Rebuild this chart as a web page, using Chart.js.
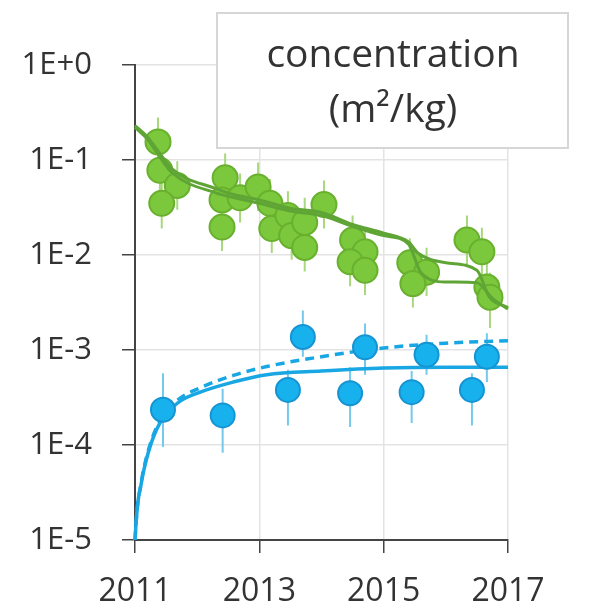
<!DOCTYPE html>
<html>
<head>
<meta charset="utf-8">
<script src="https://cdn.jsdelivr.net/npm/chart.js@4.4.1/dist/chart.umd.min.js"></script>
<style>
  html, body { margin: 0; padding: 0; background: #ffffff; }
  #wrap { width: 596px; height: 612px; }
</style>
</head>
<body>
<div id="wrap"><canvas id="c" width="596" height="612"></canvas></div>
<script>
// ---- data ----
const xTicks = [2011, 2013, 2015, 2017];
const yTickValues = [1e-5, 1e-4, 1e-3, 1e-2, 1e-1, 1];
const yTickLabels = ['1E-5', '1E-4', '1E-3', '1E-2', '1E-1', '1E+0'];
const titleLines = ['concentration', '(m²/kg)'];

// measured green samples: time, value, error bar low/high
const greenTime = [2011.37, 2011.40, 2011.68, 2011.43, 2012.45, 2012.40, 2012.40, 2012.69, 2012.98,
                   2013.17, 2013.20, 2013.46, 2013.52, 2013.73, 2013.73, 2014.04, 2014.50, 2014.70,
                   2014.46, 2014.70, 2015.42, 2015.69, 2015.47, 2016.34, 2016.58, 2016.66, 2016.71];
const greenValue = [0.155, 0.078, 0.054, 0.035, 0.065, 0.038, 0.0197, 0.040, 0.052,
                    0.035, 0.019, 0.026, 0.016, 0.012, 0.022, 0.034, 0.0144, 0.0108,
                    0.0085, 0.0069, 0.0083, 0.0066, 0.0050, 0.0144, 0.0108, 0.0046, 0.0036];
const greenLow = [0.085, 0.043, 0.030, 0.019, 0.036, 0.021, 0.011, 0.022, 0.029,
                  0.019, 0.0105, 0.0145, 0.0089, 0.0067, 0.012, 0.019, 0.008, 0.006,
                  0.0047, 0.0038, 0.0046, 0.0037, 0.0028, 0.008, 0.006, 0.0026, 0.0017];
const greenHigh = [0.28, 0.14, 0.097, 0.063, 0.117, 0.068, 0.035, 0.072, 0.094,
                   0.063, 0.034, 0.047, 0.029, 0.0216, 0.040, 0.061, 0.026, 0.0194,
                   0.0153, 0.0124, 0.015, 0.0119, 0.009, 0.026, 0.0194, 0.0083, 0.0065];

// measured blue samples
const blueTime = [2011.45, 2012.41, 2013.46, 2013.70, 2014.46, 2014.70, 2015.45, 2015.69, 2016.42, 2016.66];
const blueValue = [2.35e-4, 2.05e-4, 3.8e-4, 1.37e-3, 3.5e-4, 1.07e-3, 3.6e-4, 8.9e-4, 3.8e-4, 8.5e-4];
const blueLow = [9.5e-5, 8.3e-5, 1.6e-4, 8.5e-4, 1.55e-4, 5.5e-4, 1.7e-4, 5.5e-4, 1.6e-4, 4.6e-4];
const blueHigh = [5.7e-4, 3.9e-4, 6.2e-4, 2.6e-3, 6.6e-4, 1.9e-3, 6.0e-4, 1.45e-3, 5.7e-4, 1.5e-3];

// model curves
const greenModelATime = [2011.0, 2011.2, 2011.35, 2011.6, 2012.3, 2012.6, 2013.0, 2013.5, 2014.0, 2014.5,
                         2015.0, 2015.4, 2015.55, 2016.0, 2016.5, 2016.7, 2017.0];
const greenModelA = [0.23, 0.175, 0.13, 0.080, 0.050, 0.043, 0.038, 0.031, 0.028, 0.021,
                     0.017, 0.0137, 0.0105, 0.0083, 0.0069, 0.0036, 0.0028];
const greenModelBTime = [2011.0, 2011.2, 2011.35, 2011.6, 2012.3, 2012.6, 2013.0, 2013.5, 2014.0, 2014.5,
                         2015.0, 2015.4, 2015.6, 2016.0, 2016.5, 2016.75, 2017.0];
const greenModelB = [0.22, 0.165, 0.12, 0.073, 0.045, 0.040, 0.035, 0.029, 0.026, 0.020,
                     0.016, 0.0130, 0.0065, 0.0052, 0.0051, 0.0035, 0.0027];

const blueModelTime = [2011.0, 2011.02, 2011.05, 2011.09, 2011.13, 2011.24, 2011.40, 2011.68, 2012.05, 2012.58,
                       2013.12, 2014.0, 2015.0, 2016.0, 2017.0];
const blueSolid = [1e-5, 1.6e-5, 2.6e-5, 3.6e-5, 5.0e-5, 9.5e-5, 1.7e-4, 2.75e-4, 3.6e-4, 4.6e-4,
                   5.5e-4, 6.0e-4, 6.45e-4, 6.6e-4, 6.6e-4];
const blueDashed = [1e-5, 1.6e-5, 2.6e-5, 3.7e-5, 5.2e-5, 1.0e-4, 1.8e-4, 2.95e-4, 4.0e-4, 5.4e-4,
                    6.7e-4, 8.5e-4, 1.05e-3, 1.18e-3, 1.25e-3];

// ---- helpers ----
const pts = (xs, ys) => xs.map((x, i) => ({ x: x, y: ys[i] }));
// vertical error segments separated by gaps
const bars = (xs, lo, hi) => {
  const out = [];
  xs.forEach((x, i) => { out.push({ x: x, y: lo[i] }, { x: x, y: hi[i] }, { x: x, y: null }); });
  return out;
};

const GREEN_FILL = '#7cc83c';
const GREEN_EDGE = '#68b02e';
const GREEN_LINE = '#5fa535';
const GREEN_BAR = '#a8d87e';
const BLUE_FILL = '#17b2ee';
const BLUE_EDGE = '#1694d2';
const BLUE_LINE = '#19a7e4';
const BLUE_BAR = '#74c9ec';

const FONT = "'Open Sans', 'Liberation Sans', sans-serif";
const TEXT = '#333333';

// boxed label in the upper right
const titleBox = {
  id: 'titleBox',
  afterDraw(chart) {
    const ctx = chart.ctx;
    ctx.save();
    ctx.fillStyle = '#ffffff';
    ctx.fillRect(217, 13, 351, 135);
    ctx.strokeStyle = '#d6d6d6';
    ctx.lineWidth = 2;
    ctx.strokeRect(217, 13, 351, 135);
    ctx.fillStyle = TEXT;
    ctx.font = "39px " + FONT;
    ctx.textAlign = 'center';
    ctx.textBaseline = 'alphabetic';
    ctx.fillText(titleLines[0], 393, 67);
    ctx.fillText(titleLines[1], 393, 122);
    ctx.restore();
  }
};

const lineDs = (label, data, color, width, order, dash) => ({
  label, data, showLine: true, borderColor: color, backgroundColor: color,
  borderWidth: width, pointRadius: 0, pointHoverRadius: 0,
  cubicInterpolationMode: 'monotone',
  borderDash: dash || [], spanGaps: false, order, clip: false
});

new Chart(document.getElementById('c'), {
  type: 'scatter',
  data: {
    datasets: [
      lineDs('green model A', pts(greenModelATime, greenModelA), GREEN_LINE, 3, 1),
      lineDs('green model B', pts(greenModelBTime, greenModelB), GREEN_LINE, 3, 1),
      {
        label: 'green', data: pts(greenTime, greenValue), pointRadius: 12.5,
        backgroundColor: GREEN_FILL, borderColor: GREEN_EDGE, borderWidth: 2, order: 2, clip: false
      },
      Object.assign(lineDs('green error', bars(greenTime, greenLow, greenHigh), GREEN_BAR, 2, 3),
                    { cubicInterpolationMode: 'default', tension: 0 }),
      {
        label: 'blue', data: pts(blueTime, blueValue), pointRadius: 12,
        backgroundColor: BLUE_FILL, borderColor: BLUE_EDGE, borderWidth: 2, order: 4, clip: false
      },
      lineDs('blue model', pts(blueModelTime, blueSolid), BLUE_LINE, 3.5, 5),
      lineDs('blue model 2', pts(blueModelTime, blueDashed), BLUE_LINE, 3.5, 5, [9, 6]),
      Object.assign(lineDs('blue error', bars(blueTime, blueLow, blueHigh), BLUE_BAR, 2, 6),
                    { cubicInterpolationMode: 'default', tension: 0 })
    ]
  },
  options: {
    responsive: false,
    animation: false,
    devicePixelRatio: 1,
    layout: { padding: { top: 65, right: 88, bottom: 0, left: 0 } },
    plugins: { legend: { display: false }, tooltip: { enabled: false }, title: { display: false } },
    scales: {
      x: {
        type: 'linear', min: 2011, max: 2017,
        afterBuildTicks: (axis) => { axis.ticks = xTicks.map(v => ({ value: v })); },
        afterFit: (axis) => { axis.height = 72; },
        ticks: {
          callback: (v) => String(v), color: TEXT, padding: 20,
          font: { family: FONT, size: 32 }, maxRotation: 0, autoSkip: false
        },
        grid: { color: '#e3e3e3', lineWidth: 1.5, tickColor: '#444444', tickLength: 13, drawTicks: true },
        border: { color: '#444444', width: 2 }
      },
      y: {
        type: 'logarithmic', min: 1e-5, max: 1,
        afterBuildTicks: (axis) => { axis.ticks = yTickValues.map(v => ({ value: v })); },
        afterFit: (axis) => { axis.width = 135; },
        ticks: {
          callback: (v) => yTickLabels[yTickValues.findIndex(t => Math.abs(Math.log10(t) - Math.log10(v)) < 1e-6)],
          color: TEXT, padding: 30, font: { family: FONT, size: 31 }, autoSkip: false
        },
        grid: { color: '#e3e3e3', lineWidth: 1.5, tickColor: '#444444', tickLength: 13, drawTicks: true },
        border: { color: '#444444', width: 2 }
      }
    }
  },
  plugins: [titleBox]
});
</script>
</body>
</html>
